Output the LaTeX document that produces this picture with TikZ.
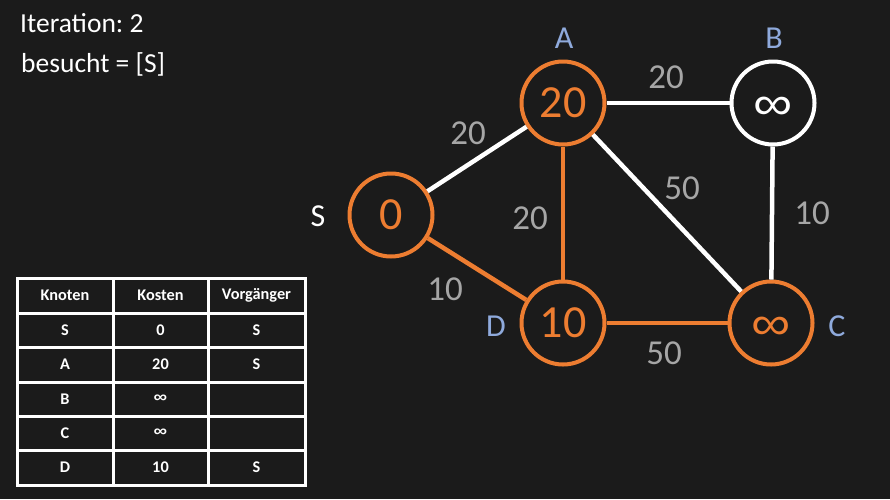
\documentclass[tikz,border=0pt]{standalone}
\usepackage{fontspec}
\setmainfont{Carlito}
\newfontfamily\symfont{Liberation Sans}
\frenchspacing
\definecolor{bg}{HTML}{1B1B1B}
\definecolor{orng}{HTML}{ED7D31}
\definecolor{lblue}{HTML}{8FAADC}
\definecolor{wgray}{HTML}{A6A6A6}
\newcommand{\biginf}{{\symfont\fontsize{55}{58}\selectfont\raisebox{-16pt}[0pt][0pt]{\scalebox{1}[0.85]{∞}}}}
\newcommand{\tabinf}{{\symfont\bfseries\fontsize{19}{22}\selectfont\raisebox{-1pt}{\scalebox{1}[0.85]{∞}}}}
\begin{document}
\begin{tikzpicture}[x=1pt,y=-1pt,
  vert/.style={circle,draw,line width=4pt,minimum size=83pt,inner sep=0pt,font=\fontsize{46}{50}\selectfont},
  overt/.style={vert,draw=orng,text=orng},
  wvert/.style={vert,draw=white,text=white},
  vname/.style={inner sep=0pt,text=lblue,font=\fontsize{32}{36}\selectfont},
  wlab/.style={inner sep=0pt,text=wgray,font=\fontsize{35}{38}\selectfont},
  wedge/.style={draw=white,line width=4.5pt},
  oedge/.style={draw=orng,line width=4.5pt},
  toptext/.style={inner sep=0pt,anchor=base west,text=white,font=\fontsize{27.5}{30}\selectfont},
  cell/.style={inner sep=0pt,text=white,font=\fontsize{16.3}{19}\selectfont\bfseries}
]
\fill[bg] (0,0) rectangle (890,499);
\useasboundingbox (0,0) rectangle (890,499);

\node[toptext] (it) at (20,32) {Iteration: 2};
\node[toptext] (bs) at (21,72) {besucht = [S]};

% vertices
\node[overt] (S) at (391,215) {0};
\node[overt] (A) at (563,103) {20};
\node[wvert] (B) at (773,103) {\biginf};
\node[overt] (D) at (563,323) {10};
\node[overt] (C) at (771,323) {\biginf};

% names
\node[vname] (nA) at (564,38) {A};
\node[vname] (nB) at (774,38) {B};
\node[vname,text=white] (nS) at (318,216) {S};
\node[vname] (nD) at (496,326) {D};
\node[vname] (nC) at (837,326) {C};

% edges
\draw[wedge] (S) -- (A);
\draw[wedge] (A) -- (B);
\draw[wedge] (A) -- (C);
\draw[wedge] (B) -- (C);
\draw[oedge] (S) -- (D);
\draw[oedge] (A) -- (D);
\draw[oedge] (D) -- (C);

% weights
\node[wlab] (wAB) at (666,77) {20};
\node[wlab] (wSA) at (468,133) {20};
\node[wlab] (wAC) at (682,188) {50};
\node[wlab] (wAD) at (530,218) {20};
\node[wlab] (wBC) at (812,213) {10};
\node[wlab] (wSD) at (445,289) {10};
\node[wlab] (wDC) at (664,353) {50};

% table
\draw[white,line width=3pt] (17,278) rectangle (305,485);
\foreach \yy in {313,347,382,416,450} \draw[white,line width=3pt] (17,\yy) -- (305,\yy);
\foreach \xx in {113,208} \draw[white,line width=3pt] (\xx,278) -- (\xx,485);

\node[cell] (h1) at (65,295.5) {Knoten};
\node[cell] (h2) at (160.5,295.5) {Kosten};
\node[cell] (h3) at (256.5,295.5) {Vorgänger};
\node[cell] (r1a) at (65,330) {S};
\node[cell] (r1b) at (160.5,330) {0};
\node[cell] (r1c) at (256.5,330) {S};
\node[cell] (r2a) at (65,364.5) {A};
\node[cell] (r2b) at (160.5,364.5) {20};
\node[cell] (r2c) at (256.5,364.5) {S};
\node[cell] (r3a) at (65,399) {B};
\node[cell] (r3b) at (160.5,399) {\tabinf};
\node[cell] (r4a) at (65,433) {C};
\node[cell] (r4b) at (160.5,433) {\tabinf};
\node[cell] (r5a) at (65,467.5) {D};
\node[cell] (r5b) at (160.5,467.5) {10};
\node[cell] (r5c) at (256.5,467.5) {S};
\end{tikzpicture}
\end{document}
